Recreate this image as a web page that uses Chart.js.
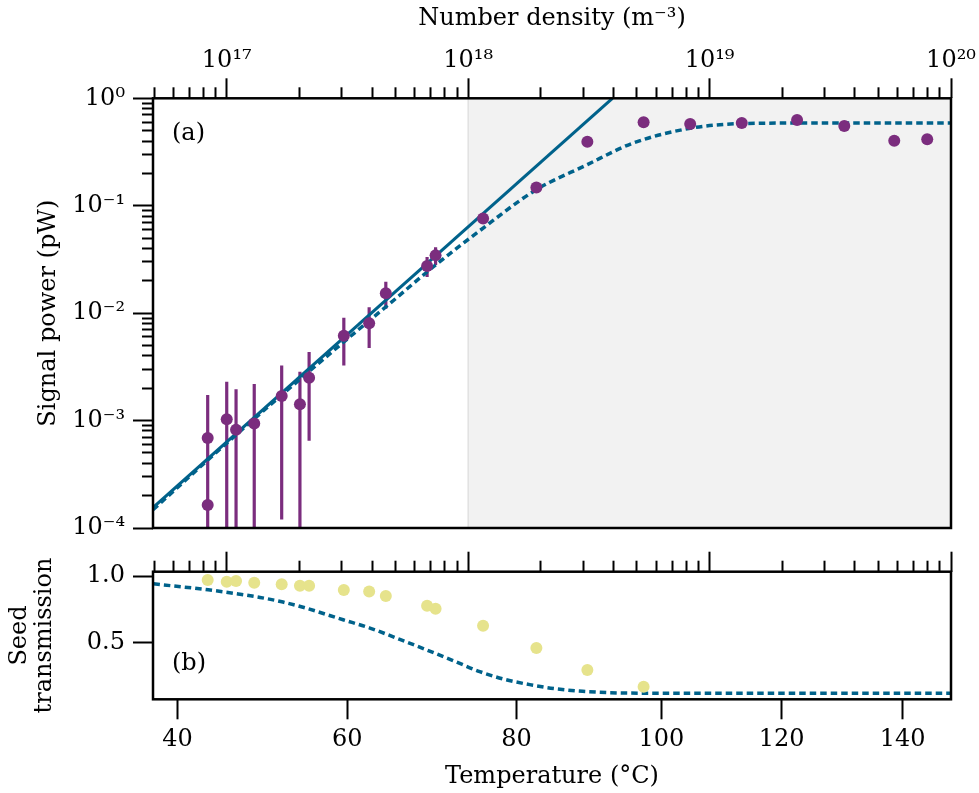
<!DOCTYPE html>
<html>
<head>
<meta charset="utf-8">
<script src="https://cdn.jsdelivr.net/npm/chart.js@4.4.0/dist/chart.umd.min.js"></script>
<style>
  html, body { margin: 0; padding: 0; background: #fff; }
  #wrap { position: relative; width: 979px; height: 793px; }
  canvas { position: absolute; left: 0; }
  #top { top: 0; }
  #bot { top: 545px; }
</style>
</head>
<body>
<div id="wrap">
  <canvas id="top" width="979" height="545"></canvas>
  <canvas id="bot" width="979" height="248"></canvas>
</div>
<script>
const FONT = "'DejaVu Serif', serif";
const FS = 24;
const TEAL = '#00628b';
const PURPLE = '#7b2d7e';
const YELLOW = '#e6e38c';

// number density range (m^-3) of the x axes
const xMin = 4.95e16;
const xMax = 1e20;
const shadeFrom = 1e18;

// tick labels
const decades = [1e17, 1e18, 1e19, 1e20];
const decadeLabels = ['10¹⁷', '10¹⁸', '10¹⁹', '10²⁰'];
const tempTicks = [40, 60, 80, 100, 120, 140];
const tempTickDensity = [6.25e16, 3.155e17, 1.585e18, 6.31e18, 1.99e19, 6.30e19];
const powerTicks = [1e-4, 1e-3, 1e-2, 1e-1, 1];
const powerLabels = ['10⁻⁴', '10⁻³', '10⁻²', '10⁻¹', '10⁰'];
const seedTicks = [0.5, 1.0];

// (a) measured signal power
const density = [8.34e16, 8.34e16, 1.00e17, 1.093e17, 1.30e17, 1.689e17, 2.01e17, 2.194e17,
  3.055e17, 3.89e17, 4.56e17, 6.76e17, 7.33e17, 1.153e18, 1.917e18, 3.117e18, 5.33e18,
  8.31e18, 1.359e19, 2.304e19, 3.614e19, 5.82e19, 7.97e19];
const signal = [6.9e-4, 1.64e-4, 1.03e-3, 8.2e-4, 9.4e-4, 1.69e-3, 1.42e-3, 2.50e-3,
  6.16e-3, 8.04e-3, 1.53e-2, 2.75e-2, 3.45e-2, 7.6e-2, 0.148, 0.394, 0.598,
  0.576, 0.589, 0.628, 0.552, 0.403, 0.415];
const signalErr = [1.04e-3, 1e-4, 1.27e-3, 1.14e-3, 1.25e-3, 1.57e-3, 1.43e-3, 1.85e-3,
  2.9e-3, 3.3e-3, 4.3e-3, 5.8e-3, 6.5e-3, 0, 0, 0, 0, 0, 0, 0, 0, 0, 0];

// (a) n^2 line and saturating model
const lineDensity = [4.95e16, 3.96e18];
const linePower = [1.55e-4, 1.0];
const modelDensity = [4.95e16, 1e17, 2e17, 3.24e17, 4.74e17, 7.16e17, 1.122e18, 1.905e18,
  3.09e18, 4.79e18, 8.32e18, 1.38e19, 3.16e19, 1e20];
const modelPower = [1.48e-4, 6.17e-4, 2.40e-3, 6.03e-3, 1.23e-2, 2.69e-2, 5.9e-2, 0.140,
  0.239, 0.381, 0.526, 0.582, 0.59, 0.59];

// (b) seed transmission
const seedDensity = [8.34e16, 1.00e17, 1.093e17, 1.30e17, 1.689e17, 2.01e17, 2.194e17, 3.055e17,
  3.89e17, 4.56e17, 6.76e17, 7.33e17, 1.153e18, 1.917e18, 3.117e18, 5.33e18];
const seedTrans = [0.970, 0.957, 0.963, 0.950, 0.938, 0.927, 0.927, 0.895,
  0.885, 0.850, 0.777, 0.755, 0.627, 0.460, 0.295, 0.170];
const seedModelDensity = [4.97e16, 8.38e16, 1.114e17, 1.374e17, 1.71e17, 2.143e17, 3.034e17,
  3.917e17, 5.21e17, 6.71e17, 8.81e17, 1.117e18, 1.416e18, 1.799e18, 2.28e18, 2.98e18,
  4.37e18, 9.1e18, 1e20];
const seedModel = [0.942, 0.897, 0.866, 0.840, 0.805, 0.758, 0.672,
  0.610, 0.525, 0.447, 0.360, 0.283, 0.225, 0.185, 0.155, 0.135,
  0.122, 0.120, 0.120];

Chart.defaults.font.family = FONT;
Chart.defaults.font.size = FS;
Chart.defaults.color = '#000';

function minorLog(lo, hi) {
  const out = [];
  for (let e = Math.floor(Math.log10(lo)); e < Math.ceil(Math.log10(hi)); e++) {
    for (let m = 2; m <= 9; m++) {
      const v = m * Math.pow(10, e);
      if (v >= lo * 0.999 && v <= hi * 1.001) out.push(v);
    }
  }
  return out;
}

function pts(xs, ys) { return xs.map((x, i) => ({ x: x, y: ys[i] })); }

function axis(o) {
  return {
    type: o.type || 'logarithmic',
    position: o.position,
    min: o.min, max: o.max,
    bounds: 'data',
    weight: o.weight || 0,
    border: { display: false },
    grid: { drawOnChartArea: false, drawTicks: true, tickLength: o.len, tickWidth: 2, tickColor: '#000' },
    ticks: {
      display: !!o.labels, autoSkip: false, maxRotation: 0, minRotation: 0,
      padding: o.pad || 6, font: { family: FONT, size: FS },
      callback: (v, i) => o.labels ? o.labels[i] : ''
    },
    title: o.title ? { display: true, text: o.title, font: { family: FONT, size: FS, lineHeight: 1.05 }, padding: o.titlePad } : { display: false },
    afterBuildTicks: s => { s.ticks = o.values.map(v => ({ value: v })); },
    afterFit: s => {
      if (s.isHorizontal()) s.height = o.size; else s.width = o.size;
      s.paddingLeft = 0; s.paddingRight = 0; s.paddingTop = 0; s.paddingBottom = 0;
    }
  };
}

const frame = {
  id: 'frame',
  afterDatasetsDraw(chart) {
    const a = chart.chartArea, c = chart.ctx;
    c.save();
    c.lineWidth = 2.5;
    c.strokeStyle = '#000';
    c.strokeRect(a.left, a.top, a.right - a.left, a.bottom - a.top);
    c.restore();
  }
};

const shade = {
  id: 'shade',
  beforeDatasetsDraw(chart) {
    const a = chart.chartArea, c = chart.ctx;
    const x0 = chart.scales.x.getPixelForValue(shadeFrom);
    c.save();
    c.fillStyle = '#f2f2f2';
    c.fillRect(x0, a.top, a.right - x0, a.bottom - a.top);
    c.strokeStyle = '#e2e2e2';
    c.lineWidth = 1.5;
    c.beginPath(); c.moveTo(x0, a.top); c.lineTo(x0, a.bottom); c.stroke();
    c.restore();
  }
};

function panelLabel(text, dy, fromBottom) {
  return {
    id: 'panel' + text,
    afterDatasetsDraw(chart) {
      const a = chart.chartArea, c = chart.ctx;
      c.save();
      c.font = FS + 'px ' + FONT;
      c.fillStyle = '#000';
      c.textBaseline = 'middle';
      c.fillText(text, a.left + 19, fromBottom ? a.bottom - dy : a.top + dy);
      c.restore();
    }
  };
}

const errorSegments = [];
density.forEach((n, i) => {
  if (!signalErr[i]) return;
  errorSegments.push({ x: n, y: Math.max(signal[i] - signalErr[i], 1e-6) });
  errorSegments.push({ x: n, y: signal[i] + signalErr[i] });
  errorSegments.push({ x: n, y: null });
});

new Chart(document.getElementById('top'), {
  type: 'scatter',
  data: {
    datasets: [
      { type: 'line', data: errorSegments, borderColor: PURPLE, borderWidth: 3.2, pointRadius: 0, spanGaps: false, order: 4 },
      { type: 'line', data: pts(lineDensity, linePower), borderColor: TEAL, borderWidth: 3, pointRadius: 0, order: 3 },
      { type: 'line', data: pts(modelDensity, modelPower), borderColor: TEAL, borderWidth: 3.5, borderDash: [6.5, 4], pointRadius: 0, cubicInterpolationMode: 'monotone', order: 2 },
      { type: 'scatter', data: pts(density, signal), backgroundColor: PURPLE, pointRadius: 6, borderWidth: 0, order: 1 }
    ]
  },
  options: {
    responsive: false,
    animation: false,
    layout: { padding: { left: 0, right: 28, top: 0, bottom: 17 } },
    plugins: { legend: { display: false }, tooltip: { enabled: false } },
    scales: {
      x: axis({ position: 'top', min: xMin, max: xMax, weight: 1, len: 20, values: decades, labels: decadeLabels, pad: 3, size: 98.3,
                title: 'Number density (m⁻³)', titlePad: { top: 6, bottom: 0 } }),
      xMinor: axis({ position: 'top', min: xMin, max: xMax, weight: 0, len: 11, values: minorLog(xMin, xMax), size: 0 }),
      y: axis({ position: 'left', min: 1e-4, max: 1, weight: 1, len: 20, values: powerTicks, labels: powerLabels, pad: 8, size: 153,
                title: 'Signal power (pW)', titlePad: { top: 36, bottom: 0 } }),
      yMinor: axis({ position: 'left', min: 1e-4, max: 1, weight: 0, len: 11, values: minorLog(1e-4, 1), size: 0 })
    }
  },
  plugins: [shade, frame, panelLabel('(a)', 35, false)]
});

new Chart(document.getElementById('bot'), {
  type: 'scatter',
  data: {
    datasets: [
      { type: 'line', data: pts(seedModelDensity, seedModel), borderColor: TEAL, borderWidth: 3.5, borderDash: [6.5, 4], pointRadius: 0, cubicInterpolationMode: 'monotone', order: 2 },
      { type: 'scatter', data: pts(seedDensity, seedTrans), backgroundColor: YELLOW, pointRadius: 6, borderWidth: 0, order: 1 }
    ]
  },
  options: {
    responsive: false,
    animation: false,
    layout: { padding: { left: 0, right: 28, top: 26.7, bottom: 0 } },
    plugins: { legend: { display: false }, tooltip: { enabled: false } },
    scales: {
      x: axis({ position: 'bottom', min: xMin, max: xMax, weight: 1, len: 20, values: tempTickDensity, labels: tempTicks.map(String), pad: 6, size: 93.7,
                title: 'Temperature (°C)', titlePad: { top: 0, bottom: 4 } }),
      xTop: axis({ position: 'top', min: xMin, max: xMax, weight: 1, len: 20, values: decades, size: 0 }),
      xTopMinor: axis({ position: 'top', min: xMin, max: xMax, weight: 0, len: 11, values: minorLog(xMin, xMax), size: 0 }),
      y: axis({ type: 'linear', position: 'left', min: 0.075, max: 1.033, weight: 1, len: 20, values: seedTicks, labels: ['0.5', '1.0'], pad: 8, size: 153,
                title: ['Seed', 'transmission'], titlePad: { top: 7, bottom: 0 } })
    }
  },
  plugins: [frame, panelLabel('(b)', 36, true)]
});
</script>
</body>
</html>
